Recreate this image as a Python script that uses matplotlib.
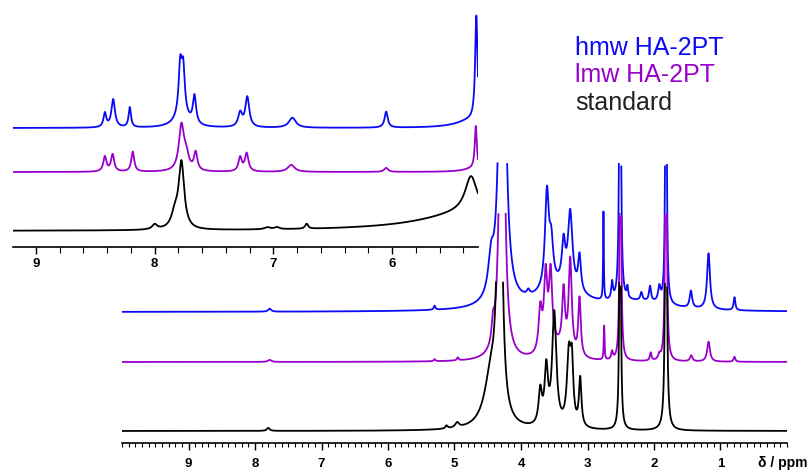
import numpy as np
import matplotlib.pyplot as plt
from matplotlib.ticker import MultipleLocator

plt.rcParams['font.family'] = ['Liberation Sans', 'DejaVu Sans']

# peak lists for the full spectra: (shift / ppm, intensity, half width / ppm)
standard_peaks = [
    (7.80, 3, 0.025), (5.12, 3, 0.02), (4.96, 5, 0.035),
    (4.45, 50, 0.12), (4.32, 400, 0.035),
    (3.71, 34, 0.03), (3.62, 55, 0.03), (3.50, 113, 0.038),
    (3.28, 70, 0.035), (3.235, 55, 0.025), (3.11, 48, 0.022),
    (2.51, 400, 0.01), (1.82, 400, 0.013),
]
lmw_peaks = [
    (7.78, 2, 0.03), (5.30, 2, 0.015), (4.95, 3, 0.015),
    (4.42, 20, 0.025), (4.285, 500, 0.035),
    (3.71, 43, 0.03), (3.63, 75, 0.03), (3.555, 75, 0.03),
    (3.45, 12, 0.15),
    (3.36, 58, 0.025), (3.26, 94, 0.028), (3.12, 58, 0.022),
    (2.75, 34, 0.007), (2.63, 8, 0.015), (2.505, 400, 0.01),
    (2.05, 8, 0.015), (1.92, 5, 0.02), (1.82, 400, 0.011),
    (1.44, 6, 0.022), (1.18, 20, 0.025), (0.79, 5, 0.015),
]
hmw_peaks = [
    (7.78, 3, 0.025), (5.30, 4, 0.015),
    (4.45, 35, 0.05), (4.28, 500, 0.045), (3.89, 5, 0.025),
    (3.40, 22, 0.4),
    (3.61, 95, 0.035), (3.545, 40, 0.035), (3.36, 40, 0.03),
    (3.26, 75, 0.04), (3.12, 35, 0.025),
    (2.76, 88, 0.006), (2.63, 17, 0.015), (2.51, 450, 0.012),
    (2.40, 11, 0.012), (2.19, 8, 0.018), (2.06, 15, 0.018),
    (1.92, 15, 0.022), (1.82, 450, 0.01), (2.20, 8, 0.5),
    (1.445, 17, 0.022), (1.18, 56, 0.026), (0.79, 13, 0.015),
]

# aromatic region, scaled up
standard_arom = [
    (8.00, 5, 0.025), (7.83, 14, 0.035), (7.775, 66, 0.028),
    (7.05, 2, 0.03), (6.97, 2, 0.025), (6.72, 5, 0.015),
    (5.335, 35, 0.06), (5.30, 20, 0.5),
]
lmw_arom = [
    (8.42, 15, 0.016), (8.355, 17, 0.016), (8.185, 20, 0.015),
    (7.775, 45, 0.026), (7.735, 14, 0.025), (7.655, 18, 0.017),
    (7.28, 14, 0.017), (7.225, 18, 0.018), (6.85, 7, 0.035),
    (6.05, 4, 0.02), (5.295, 42, 0.01), (5.30, 4, 0.1),
]
hmw_arom = [
    (8.42, 14, 0.014), (8.35, 28, 0.018), (8.21, 20, 0.012),
    (7.785, 48, 0.016), (7.76, 44, 0.016), (7.77, 12, 0.07),
    (7.665, 28, 0.016), (7.28, 14, 0.02), (7.22, 30, 0.02),
    (6.84, 10, 0.035), (6.05, 16, 0.016),
    (5.29, 105, 0.012), (5.33, 8, 0.15),
]

labels = ['hmw HA-2PT', 'lmw HA-2PT', 'standard']
colors = ['#0a0af5', '#9a00cc', '#000000']


def spectrum(ppm, peaks):
    y = np.zeros_like(ppm)
    for center, height, width in peaks:
        y += height / (1 + ((ppm - center) / width) ** 2)
    return y


def style_axis(ax):
    for side in ['left', 'right', 'top']:
        ax.spines[side].set_visible(False)
    ax.spines['bottom'].set_linewidth(1.2)
    ax.set_yticks([])
    ax.patch.set_visible(False)
    for lab in ax.get_xticklabels():
        lab.set_fontweight('bold')


fig = plt.figure(figsize=(8.12, 4.71), dpi=100)

# full spectrum, tall peaks cut off above a fixed height
ax = fig.add_axes([122 / 812, 28 / 471, 665 / 812, 443 / 471])
ppm = np.linspace(10, 0, 20000)
offsets = [131, 81, 12]
for peaks, color, off in zip([hmw_peaks, lmw_peaks, standard_peaks], colors, offsets):
    y = spectrum(ppm, peaks)
    y[y > 149] = np.nan
    ax.plot(ppm, y + off, color=color, lw=1.3)
ax.set_xlim(10, 0)
ax.set_ylim(0, 443)
ax.xaxis.set_major_locator(MultipleLocator(1))
ax.xaxis.set_minor_locator(MultipleLocator(0.1))
ax.set_xticks(range(1, 10))
ax.tick_params(axis='x', which='major', length=5, width=1, labelsize=9.5, pad=6)
ax.tick_params(axis='x', which='minor', length=3, width=0.8)
style_axis(ax)
fig.text(758 / 812, 1 - 463 / 471, 'δ / ppm', fontsize=10, fontweight='bold',
         ha='left', va='center')

# aromatic inset
axi = fig.add_axes([13 / 812, 1 - 247 / 471, 465 / 812, 247 / 471])
ppm_i = np.linspace(9.194, 5.276, 8000)
offsets_i = [119, 75, 16]
for peaks, color, off in zip([hmw_arom, lmw_arom, standard_arom], colors, offsets_i):
    axi.plot(ppm_i, spectrum(ppm_i, peaks) + off, color=color, lw=1.3)
axi.set_xlim(9.194, 5.276)
axi.set_ylim(0, 247)
axi.xaxis.set_major_locator(MultipleLocator(1))
axi.xaxis.set_minor_locator(MultipleLocator(0.2))
axi.tick_params(axis='x', which='major', length=5, width=1, labelsize=9.5, pad=3)
axi.tick_params(axis='x', which='minor', length=4, width=0.8)
style_axis(axi)

# sample names
for i, (label, color) in enumerate(zip(labels, colors)):
    fig.text(575 / 812, 1 - (48 + 27.5 * i) / 471, label, color=color if i < 2 else '#222222',
             fontsize=18, ha='left', va='center')

fig.savefig('out.png', dpi=100)
